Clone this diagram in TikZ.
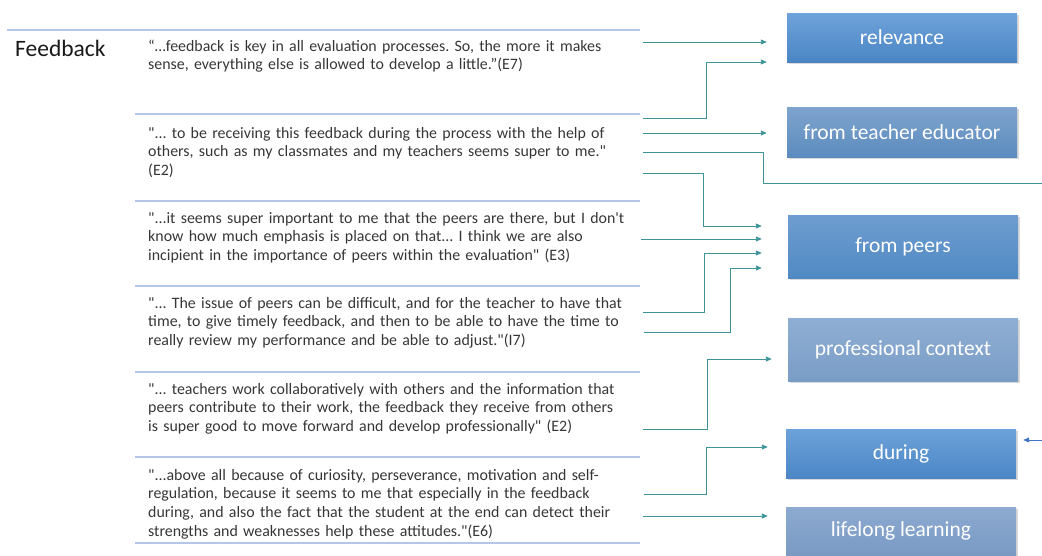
\documentclass[tikz,border=0pt]{standalone}
\usepackage{fontspec}
\setmainfont{Carlito}[Ligatures=TeXOff]
\frenchspacing
\usetikzlibrary{arrows.meta,shadows}
\definecolor{sepc}{HTML}{B4C7E7}
\definecolor{connc}{HTML}{3E9499}
\definecolor{qtext}{HTML}{363636}
\definecolor{bluearr}{HTML}{4472C4}
\definecolor{relT}{HTML}{6FA3DA}\definecolor{relB}{HTML}{4A85C4}
\definecolor{teaT}{HTML}{7EA4CE}\definecolor{teaB}{HTML}{5C8BBE}
\definecolor{peeT}{HTML}{6E9DD0}\definecolor{peeB}{HTML}{5089C3}
\definecolor{proT}{HTML}{8FAED3}\definecolor{proB}{HTML}{7A9DC6}
\definecolor{durT}{HTML}{6CA2DA}\definecolor{durB}{HTML}{4C86C6}
\definecolor{lifT}{HTML}{8DAAD0}\definecolor{lifB}{HTML}{7A9AC4}
\tikzset{
  seprule/.style={draw=sepc, line width=1.3pt},
  quote/.style={anchor=base west, inner sep=0pt, text width=500pt, align=left, text=qtext,
    font=\fontsize{15.9}{18.8}\selectfont},
  conn/.style={draw=connc, line width=0.9pt, -{Triangle[length=6pt,width=5pt]}},
  plainconn/.style={draw=connc, line width=0.9pt},
  catbox/.style={minimum width=230pt, inner sep=0pt, text=white,
    font=\fontsize{21.5}{24}\selectfont,
    drop shadow={opacity=0.3, shadow xshift=1.5pt, shadow yshift=-1.5pt}},
}
\begin{document}
\begin{tikzpicture}[x=1pt,y=-1pt]
\useasboundingbox (0,0) rectangle (1042,555);
\clip (0,0) rectangle (1042,555);

% separator rules
\draw[seprule] (7,30) -- (640,30);
\foreach \yy in {114,201,286,372,457,543}
  \draw[seprule] (135,\yy) -- (640,\yy);

\node[anchor=base west, inner sep=0pt, font=\fontsize{23.5}{26}\selectfont, text=black!90] (fb) at (15,56.5) {Feedback};

\node[quote] (q1) at (148,51) {“…feedback is key in all evaluation processes. So, the more it makes\\sense, everything else is allowed to develop a little.”(E7)};
\node[quote] (q2) at (148,138) {"... to be receiving this feedback during the process with the help of\\others, such as my classmates and my teachers seems super to me."\\(E2)};
\node[quote] (q3) at (148,223) {"...it seems super important to me that the peers are there, but I don't\\know how much emphasis is placed on that... I think we are also\\incipient in the importance of peers within the evaluation" (E3)};
\node[quote] (q4) at (148,308) {"... The issue of peers can be difficult, and for the teacher to have that\\time, to give timely feedback, and then to be able to have the time to\\really review my performance and be able to adjust."(I7)};
\node[quote] (q5) at (148,394) {"... teachers work collaboratively with others and the information that\\peers contribute to their work, the feedback they receive from others\\is super good to move forward and develop professionally" (E2)};
\node[quote] (q6) at (148,480) {"...above all because of curiosity, perseverance, motivation and self-\\regulation, because it seems to me that especially in the feedback\\during, and also the fact that the student at the end can detect their\\strengths and weaknesses help these attitudes."(E6)};

% category boxes
\node[catbox, minimum height=49pt, top color=relT, bottom color=relB] (rel) at (902,37.5) {relevance};
\node[catbox, minimum height=50pt, top color=teaT, bottom color=teaB] (tea) at (902,132) {from teacher educator};
\node[catbox, minimum height=63pt, top color=peeT, bottom color=peeB] (peer) at (903,246.5) {from peers};
\node[catbox, minimum height=63pt, top color=proT, bottom color=proB] (prof) at (903,349.5) {professional context};
\node[catbox, minimum height=49pt, top color=durT, bottom color=durB] (dur) at (901,453.5) {during};
\node[catbox, minimum height=48pt, top color=lifT, bottom color=lifB] (life) at (901,531) {lifelong learning};

% connector start points
\coordinate (s1) at (643,42);
\coordinate (s2) at (643,118);
\coordinate (s3) at (643,133);
\coordinate (s4) at (643,152);
\coordinate (s5) at (643,173);
\coordinate (s6) at (641,239);
\coordinate (s7) at (643,312);
\coordinate (s8) at (644,332);
\coordinate (s9) at (643,429);
\coordinate (s10) at (644,494);
\coordinate (s11) at (643,516);
\coordinate (e4) at (1042,183);
\coordinate (bstart) at (1042,440);

\draw[conn] (s1) -- ([xshift=-20pt]rel.west |- s1);
\draw[conn] (s2) -- (706,118) -- (706,62) -- ([xshift=-20pt]rel.west |- 0,62);
\draw[conn] (s3) -- ([xshift=-20pt]tea.west |- s3);
\draw[plainconn] (s4) -- (763,152) -- (763,183) -- (e4);
\draw[conn] (s5) -- (703,173) -- (703,226) -- ([xshift=-26pt]peer.west |- 0,226);
\draw[conn] (s6) -- ([xshift=-26pt]peer.west |- s6);
\draw[conn] (s7) -- (704,312) -- (704,253) -- ([xshift=-26pt]peer.west |- 0,253);
\draw[conn] (s8) -- (730,332) -- (730,268) -- ([xshift=-26pt]peer.west |- 0,268);
\draw[conn] (s9) -- (707,429) -- (707,359) -- ([xshift=-16pt]prof.west |- 0,359);
\draw[conn] (s10) -- (706,494) -- (706,447) -- ([xshift=-18pt]dur.west |- 0,447);
\draw[conn] (s11) -- ([xshift=-18pt]life.west |- s11);
\draw[draw=bluearr, line width=0.9pt, -{Triangle[length=6pt,width=5pt]}] (bstart) -- ([xshift=7pt]dur.east |- bstart);
\end{tikzpicture}
\end{document}
